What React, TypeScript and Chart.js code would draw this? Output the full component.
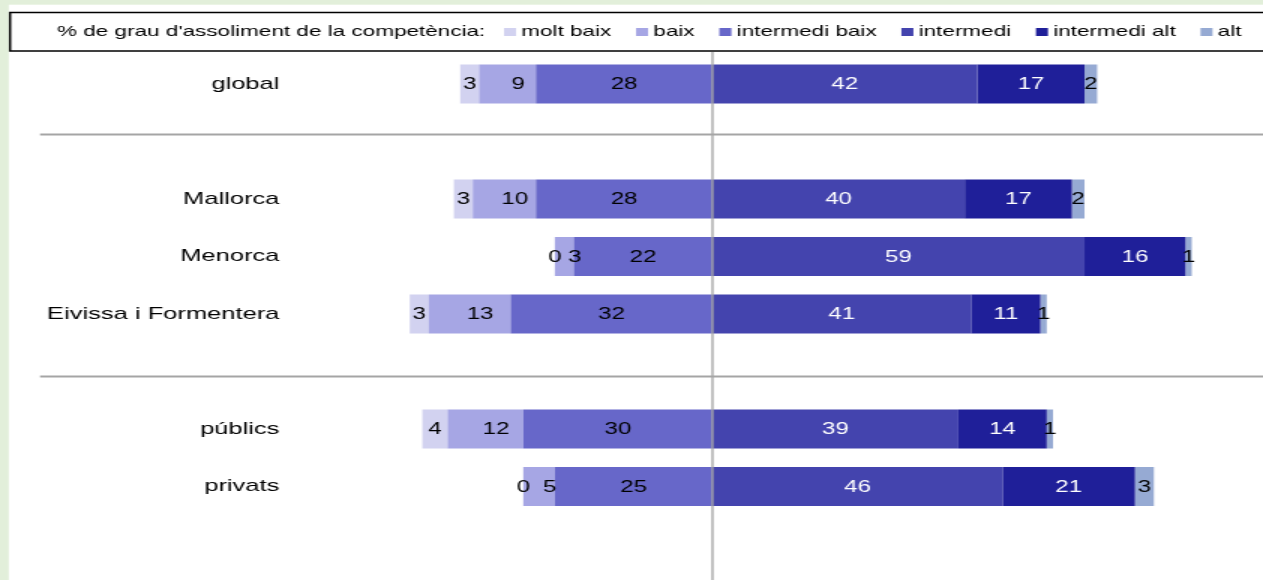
import React, { useEffect, useRef } from 'react';
import { Chart, registerables } from 'chart.js';

Chart.register(...registerables);

// ---- data ----
const categories = ['global', '', 'Mallorca', 'Menorca', 'Eivissa i Formentera', '', 'públics', 'privats', ''];
const moltBaix = [3, null, 3, 0, 3, null, 4, 0, null];
const baix = [9, null, 10, 3, 13, null, 12, 5, null];
const intermediBaix = [28, null, 28, 22, 32, null, 30, 25, null];
const intermedi = [42, null, 40, 59, 41, null, 39, 46, null];
const intermediAlt = [17, null, 17, 16, 11, null, 14, 21, null];
const alt = [2, null, 2, 1, 1, null, 1, 3, null];

const legendTitle = "% de grau d'assoliment de la competència:";
const seriesNames = ['molt baix', 'baix', 'intermedi baix', 'intermedi', 'intermedi alt', 'alt'];

// ---- styles ----
const seriesColors = ['#d2d2f0', '#a6a6e4', '#6767c9', '#4444ae', '#1f1f99', '#96aad3'];
const labelColors = ['#000', '#000', '#000', '#fff', '#fff', '#000'];
const labelShift = [0, 7, 0, 0, 0, 0];
const FONT = '"Liberation Sans", Arial, sans-serif';
const X_MIN = -67;
const X_MAX = 87.3;
const separatorIdx = [0.878, 5.087];

const CANVAS_W = 842;
const CANVAS_H = 580;

export default function App() {
  const ref = useRef<HTMLCanvasElement | null>(null);

  useEffect(() => {
    if (!ref.current) return;

    const seriesData = [moltBaix, baix, intermediBaix, intermedi, intermediAlt, alt];
    // stacking order: left side from centre outwards, then right side from centre outwards
    const order = [
      { idx: 2, sign: -1 },
      { idx: 1, sign: -1 },
      { idx: 0, sign: -1 },
      { idx: 3, sign: 1 },
      { idx: 4, sign: 1 },
      { idx: 5, sign: 1 },
    ];
    const datasets = order.map(({ idx, sign }) => ({
      label: seriesNames[idx],
      data: seriesData[idx].map((v) => (v === null ? null : sign * v)),
      backgroundColor: seriesColors[idx],
      borderWidth: 0,
      barPercentage: 0.68,
      categoryPercentage: 1,
      seriesIdx: idx,
    }));

    const bgPlugin = {
      id: 'bg',
      beforeDraw(chart: any) {
        const ctx = chart.ctx;
        ctx.save();
        ctx.fillStyle = '#e2efda';
        ctx.fillRect(0, 0, chart.width, chart.height);
        ctx.fillStyle = '#ffffff';
        ctx.fillRect(5.8, 4.7, chart.width, chart.height);
        // separators
        const ys = chart.scales.y;
        ctx.strokeStyle = '#a5a5a5';
        ctx.lineWidth = 2;
        separatorIdx.forEach((v) => {
          const py = ys.getPixelForValue(v);
          ctx.beginPath();
          ctx.moveTo(26.7, py);
          ctx.lineTo(chart.width, py);
          ctx.stroke();
        });
        ctx.restore();
      },
    };

    const labelPlugin = {
      id: 'labels',
      afterDatasetsDraw(chart: any) {
        const ctx = chart.ctx;
        ctx.save();
        // centre line
        const x0 = chart.scales.x.getPixelForValue(0);
        ctx.strokeStyle = '#a5a5a5';
        ctx.lineWidth = 1.35;
        ctx.beginPath();
        ctx.moveTo(x0, 52);
        ctx.lineTo(x0, chart.height);
        ctx.stroke();

        ctx.font = `16px ${FONT}`;
        ctx.textAlign = 'center';
        ctx.textBaseline = 'middle';
        chart.data.datasets.forEach((ds: any, di: number) => {
          const meta = chart.getDatasetMeta(di);
          meta.data.forEach((bar: any, i: number) => {
            const v = ds.data[i];
            if (v === null || v === undefined) return;
            const { x, y, base } = bar.getProps(['x', 'y', 'base'], true);
            ctx.fillStyle = labelColors[ds.seriesIdx];
            ctx.fillText(String(Math.abs(v)), (x + base) / 2 + labelShift[ds.seriesIdx], y + 1);
          });
        });
        ctx.restore();
      },
    };

    const legendPlugin = {
      id: 'customLegend',
      afterDraw(chart: any) {
        const ctx = chart.ctx;
        ctx.save();
        ctx.strokeStyle = '#000';
        ctx.lineWidth = 1.5;
        ctx.strokeRect(6.7, 12.5, 900, 38.5);
        ctx.font = `15px ${FONT}`;
        ctx.textBaseline = 'middle';
        ctx.textAlign = 'left';
        ctx.fillStyle = '#000';
        const y = 32;
        let x = 38;
        ctx.fillText(legendTitle, x, y);
        x += ctx.measureText(legendTitle).width + 12.5;
        seriesNames.forEach((name, i) => {
          ctx.fillStyle = seriesColors[i];
          ctx.fillRect(x, 28, 8, 8);
          ctx.fillStyle = '#000';
          ctx.fillText(name, x + 11.5, y);
          x += 11.5 + ctx.measureText(name).width + 16.5;
        });
        ctx.restore();
      },
    };

    const chart = new Chart(ref.current, {
      type: 'bar',
      data: { labels: categories, datasets: datasets as any },
      options: {
        indexAxis: 'y',
        responsive: false,
        maintainAspectRatio: false,
        animation: false,
        devicePixelRatio: 1,
        events: [],
        layout: { padding: { top: 55.25, bottom: 7.25, left: 0, right: 0 } },
        plugins: {
          legend: { display: false },
          tooltip: { enabled: false },
          title: { display: false },
        },
        scales: {
          x: {
            type: 'linear',
            stacked: true,
            min: X_MIN,
            max: X_MAX,
            display: false,
          },
          y: {
            stacked: true,
            grid: { display: false, drawTicks: false },
            border: { display: false },
            ticks: {
              autoSkip: false,
              color: '#000',
              padding: 7,
              font: { family: FONT, size: 17 },
            },
            afterFit(scale: any) {
              scale.width = 193.3;
              scale.paddingTop = 0;
              scale.paddingBottom = 0;
            },
          },
        },
      } as any,
      plugins: [bgPlugin, labelPlugin, legendPlugin],
    });

    return () => chart.destroy();
  }, []);

  return (
    <div
      style={{
        position: 'fixed',
        left: 0,
        top: 0,
        width: 1263,
        height: 580,
        overflow: 'hidden',
        background: '#e2efda',
      }}
    >
      <canvas
        ref={ref}
        width={CANVAS_W}
        height={CANVAS_H}
        style={{ display: 'block', width: '1263px', height: '580px' }}
      />
    </div>
  );
}
